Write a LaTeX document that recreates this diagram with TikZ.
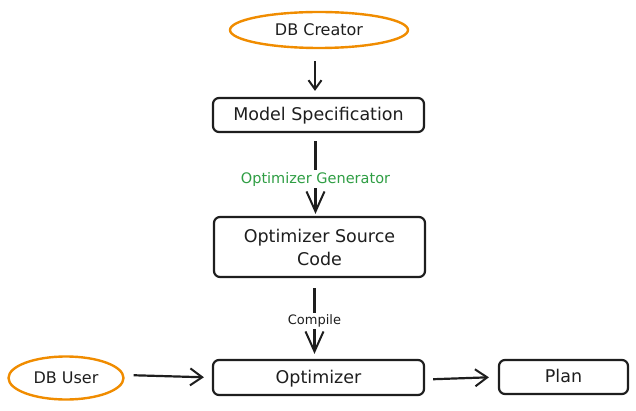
\documentclass[tikz,border=0pt]{standalone}
\usepackage{fontspec}
\setmainfont{DejaVu Sans}
\usetikzlibrary{arrows.meta,shapes.geometric}
\definecolor{exorange}{HTML}{F08C00}
\definecolor{exgreen}{HTML}{2F9E44}
\definecolor{exink}{HTML}{1E1E1E}
\tikzset{
  box/.style={draw=exink, line width=2.2pt, rounded corners=6pt, fill=white, font=\fontsize{17.5}{22}\selectfont, text=exink, inner sep=0pt, text height=13pt, text depth=2pt},
  actor/.style={ellipse, draw=exorange, line width=2.4pt, font=\fontsize{16}{19}\selectfont, text=exink, inner sep=0pt},
  arr/.style={draw=exink, line width=2.2pt, -{Straight Barb[length=12pt,width=17pt,line width=2pt]}},
  lbl/.style={fill=white, inner sep=2pt}
}
\begin{document}
\begin{tikzpicture}[x=1pt,y=-1pt]
\useasboundingbox (0,0) rectangle (636,411);
\node[actor, minimum width=178pt, minimum height=36pt] (creator) at (319,30) {DB Creator};
\node[box, minimum width=211pt, minimum height=34pt] (spec) at (318.5,115) {Model Specification};
\node[box, minimum width=211pt, minimum height=60pt, align=center, text height=, text depth=] (src) at (319.5,247) {Optimizer Source\\[1pt]Code};
\node[box, minimum width=211pt, minimum height=35pt] (opt) at (318.5,377.5) {Optimizer};
\node[actor, minimum width=115pt, minimum height=43pt] (user) at (66,378) {DB User};
\node[box, minimum width=129pt, minimum height=34pt] (plan) at (563.5,377) {Plan};

\draw[arr, -{Straight Barb[length=9pt,width=13pt,line width=2pt]}, shorten <=12pt, shorten >=6pt] (creator.south) ++(-4,0) coordinate (c1) (c1) -- (c1 |- spec.north);
\draw[arr, -{Straight Barb[length=20pt,width=18pt,line width=2pt]}, shorten <=8pt, shorten >=2pt] (spec.south) ++(-3,0) coordinate (s1) (s1) -- (s1 |- src.north)
  node[pos=0.555, lbl, text=exgreen, font=\fontsize{14.5}{17}\selectfont] {Optimizer Generator};
\draw[arr, -{Straight Barb[length=20pt,width=18pt,line width=2pt]}, shorten <=10pt, shorten >=5pt] (src.south) ++(-5,0) coordinate (o1) (o1) -- (o1 |- opt.north)
  node[pos=0.53, lbl, text=exink, font=\fontsize{13}{15}\selectfont] {Compile};
\draw[arr, shorten <=9pt, shorten >=8pt] (user.east) ++(0,-3) coordinate (u1) (u1) -- (opt.west);
\draw[arr, shorten <=8pt, shorten >=9pt] (opt.east) ++(0,2) coordinate (p1) (p1) -- (plan.west);
\end{tikzpicture}
\end{document}
